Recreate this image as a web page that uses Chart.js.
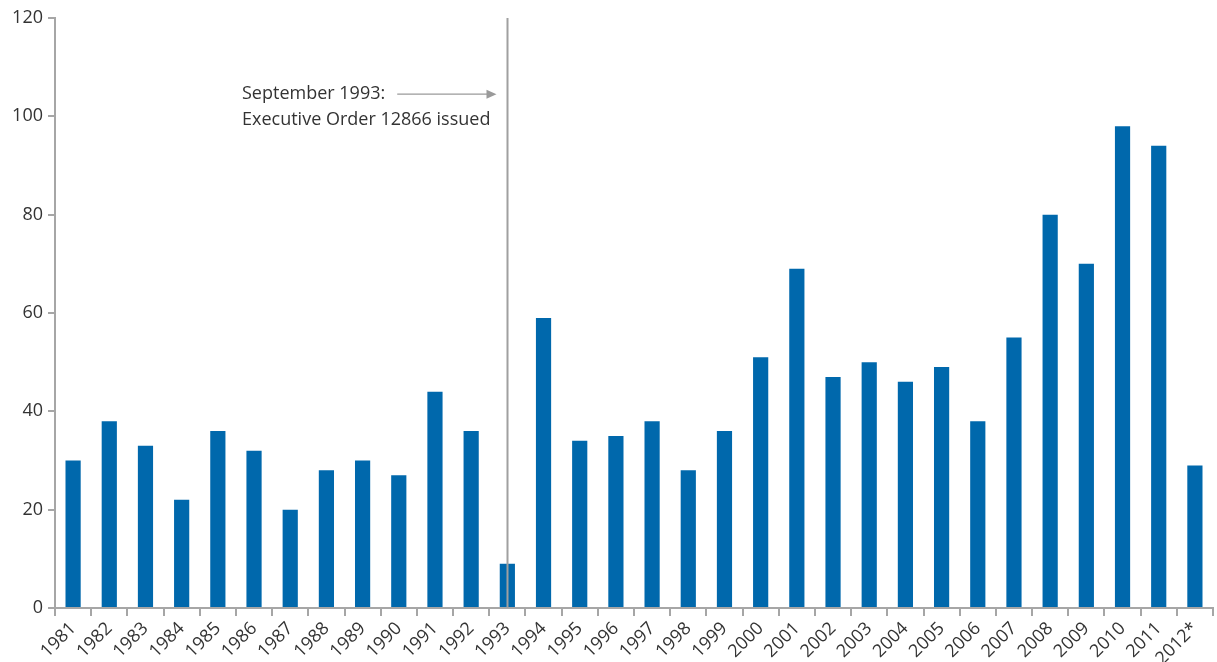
<!DOCTYPE html>
<html>
<head>
<meta charset="utf-8">
<script src="https://cdn.jsdelivr.net/npm/chart.js@4"></script>
<style>
  html, body { margin: 0; padding: 0; background: #fff; }
  #wrap { width: 1217px; height: 662px; position: relative; }
</style>
</head>
<body>
<div id="wrap"><canvas id="chart"></canvas></div>
<script>
const years = ['1981','1982','1983','1984','1985','1986','1987','1988','1989','1990',
  '1991','1992','1993','1994','1995','1996','1997','1998','1999','2000',
  '2001','2002','2003','2004','2005','2006','2007','2008','2009','2010','2011','2012*'];
const counts = [30, 38, 33, 22, 36, 32, 20, 28, 30, 27,
  44, 36, 9, 59, 34, 35, 38, 28, 36, 51,
  69, 47, 50, 46, 49, 38, 55, 80, 70, 98, 94, 29];
const yTicks = [0, 20, 40, 60, 80, 100, 120];
const markerYear = '1993';
const noteLines = ['September 1993:', 'Executive Order 12866 issued'];

const FONT = '"Open Sans", "Noto Sans", sans-serif';
const TEXT = '#333333';
const AXIS = '#a6a6a6';

// vertical marker line + annotation text with arrow
const markerPlugin = {
  id: 'marker',
  afterDatasetsDraw(chart) {
    const ctx = chart.ctx;
    const x = chart.scales.x;
    const y = chart.scales.y;
    const px = Math.round(x.getPixelForValue(years.indexOf(markerYear))) + 0.5;
    ctx.save();
    ctx.strokeStyle = '#a0a0a0';
    ctx.lineWidth = 2;
    ctx.beginPath();
    ctx.moveTo(px, y.top);
    ctx.lineTo(px, y.bottom);
    ctx.stroke();

    ctx.font = '18px ' + FONT;
    ctx.fillStyle = TEXT;
    ctx.textBaseline = 'middle';
    ctx.textAlign = 'left';
    const tx = 242;
    const ty1 = y.getPixelForValue(104.5);
    const ty2 = y.getPixelForValue(99.2);
    ctx.fillText(noteLines[0], tx, ty1);
    ctx.fillText(noteLines[1], tx, ty2);

    // arrow
    const ax0 = tx + ctx.measureText(noteLines[0]).width + 12;
    const ax1 = px - 11;
    ctx.strokeStyle = '#9a9a9a';
    ctx.fillStyle = '#9a9a9a';
    ctx.lineWidth = 1.3;
    ctx.beginPath();
    ctx.moveTo(ax0, ty1);
    ctx.lineTo(ax1 - 8, ty1);
    ctx.stroke();
    ctx.beginPath();
    ctx.moveTo(ax1, ty1);
    ctx.lineTo(ax1 - 10, ty1 - 4.5);
    ctx.lineTo(ax1 - 10, ty1 + 4.5);
    ctx.closePath();
    ctx.fill();
    ctx.restore();
  }
};

new Chart(document.getElementById('chart'), {
  type: 'bar',
  data: {
    labels: years,
    datasets: [{
      data: counts,
      backgroundColor: '#0068ac',
      borderWidth: 0,
      barPercentage: 0.42,
      categoryPercentage: 1.0
    }]
  },
  options: {
    responsive: true,
    maintainAspectRatio: false,
    animation: false,
    layout: { padding: { top: 18, right: 4, left: 0, bottom: 0 } },
    plugins: {
      legend: { display: false },
      tooltip: { enabled: false }
    },
    scales: {
      x: {
        offset: true,
        grid: {
          offset: true,
          drawOnChartArea: false,
          drawTicks: true,
          tickLength: 8,
          color: AXIS,
          lineWidth: 2
        },
        border: { color: AXIS, width: 2 },
        ticks: {
          color: TEXT,
          font: { family: FONT, size: 18 },
          minRotation: 45,
          maxRotation: 45,
          autoSkip: false,
          padding: 2
        },
        afterFit(scale) { scale.height = 54; }
      },
      y: {
        min: 0,
        max: 120,
        afterBuildTicks(scale) { scale.ticks = yTicks.map(v => ({ value: v })); },
        grid: {
          drawOnChartArea: false,
          drawTicks: true,
          tickLength: 7,
          color: AXIS,
          lineWidth: 2
        },
        border: { color: AXIS, width: 2 },
        ticks: {
          color: TEXT,
          font: { family: FONT, size: 18 },
          padding: 5
        },
        afterFit(scale) { scale.width = 55; }
      }
    }
  },
  plugins: [markerPlugin]
});
</script>
</body>
</html>
